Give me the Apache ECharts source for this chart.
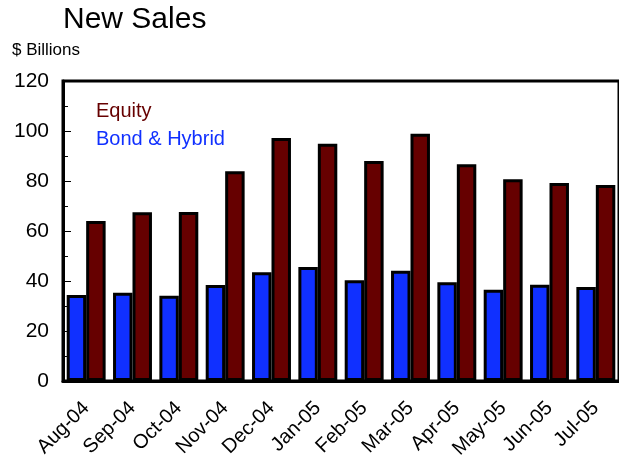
<!DOCTYPE html>
<html>
<head>
<meta charset="utf-8">
<script src="https://cdn.jsdelivr.net/npm/echarts@6/dist/echarts.min.js"></script>
<style>html,body{margin:0;padding:0;background:#fff}#c{width:619px;height:462px}</style>
</head>
<body>
<div id="c"></div>
<script>
var categories = ['Aug-04','Sep-04','Oct-04','Nov-04','Dec-04','Jan-05','Feb-05','Mar-05','Apr-05','May-05','Jun-05','Jul-05'];
var bondHybrid = [34.4, 35.3, 34.1, 38.4, 43.5, 45.6, 40.3, 44.1, 39.5, 36.5, 38.5, 37.6];
var equity = [64.0, 67.5, 67.6, 83.9, 97.2, 94.9, 88.0, 98.9, 86.7, 80.7, 79.2, 78.4];
var yTicks = [0, 20, 40, 60, 80, 100, 120];

var FONT = 'Liberation Sans, Arial, sans-serif';
var chart = echarts.init(document.getElementById('c'), null, {renderer: 'canvas'});
chart.setOption({
  animation: false,
  backgroundColor: '#fff',
  title: [
    {text: 'New Sales', left: 58, top: 0, textStyle: {fontFamily: FONT, fontSize: 30, fontWeight: 'normal', color: '#000'}},
    {text: '$ Billions', left: 7, top: 37, textStyle: {fontFamily: FONT, fontSize: 17, fontWeight: 'normal', color: '#000'}}
  ],
  legend: {
    orient: 'vertical', left: 86, top: 96, icon: 'none', itemWidth: 0, itemHeight: 0, itemGap: 8,
    selectedMode: false,
    textStyle: {fontFamily: FONT, fontSize: 20},
    data: [
      {name: 'Equity', textStyle: {color: '#660000'}},
      {name: 'Bond & Hybrid', textStyle: {color: '#1030ff'}}
    ]
  },
  grid: {left: 63, right: -1, top: 81, bottom: 81, show: true, borderColor: '#000', borderWidth: 3, containLabel: false},
  xAxis: {
    type: 'category', data: categories,
    axisLine: {show: true, lineStyle: {color: '#000', width: 3}},
    axisTick: {show: false},
    axisLabel: {rotate: 45, margin: 24, color: '#000', fontFamily: FONT, fontSize: 20, interval: 0}
  },
  yAxis: {
    type: 'value', min: yTicks[0], max: yTicks[yTicks.length-1], interval: 20,
    axisLine: {show: true, lineStyle: {color: '#000', width: 3}},
    axisTick: {show: true, inside: true, length: 8, lineStyle: {color: '#000', width: 1}},
    minorTick: {show: true, splitNumber: 2, length: 5, lineStyle: {color: '#000', width: 1}},
    splitLine: {show: false},
    axisLabel: {margin: 14, color: '#000', fontFamily: FONT, fontSize: 21}
  },
  series: [
    {name: 'Bond & Hybrid', type: 'bar', data: bondHybrid, barGap: '0%', barCategoryGap: '16%',
     itemStyle: {color: '#1030ff', borderColor: '#000', borderWidth: 3}},
    {name: 'Equity', type: 'bar', data: equity, barGap: '0%', barCategoryGap: '16%',
     itemStyle: {color: '#660000', borderColor: '#000', borderWidth: 3}}
  ]
});
</script>
</body>
</html>
